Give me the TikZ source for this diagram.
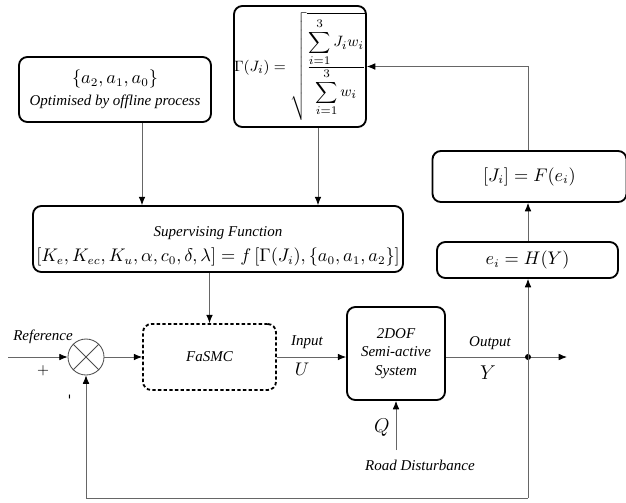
\documentclass[tikz,border=0pt]{standalone}
\usepackage{amsmath}
\usepackage[no-math]{fontspec}
\setmainfont{Liberation Serif}
\usetikzlibrary{arrows.meta, positioning, calc}

\begin{document}
\begin{tikzpicture}[
        x=0.6pt, y=-0.6pt,
        % box styles
        box/.style={
            rectangle,
            rounded corners=5pt,
            draw=black,
            line width=1.1pt,
            align=center,
            inner sep=1pt,
            font=\fontsize{9}{11}\selectfont
        },
        ctrlbox/.style={
            box,
            dash pattern=on 2pt off 1.4pt
        },
        % connector styles
        wire/.style={draw=black!60, line width=0.5pt},
        arrow/.style={
            wire,
            -{Latex[length=5pt, width=4pt, color=black]}
        },
        lbl/.style={font=\fontsize{9}{11}\selectfont\itshape},
        eq/.style={font=\fontsize{10.5}{13}\selectfont}
    ]
    \useasboundingbox (0,0) rectangle (626,502);

    % ================= blocks =================
    \node[box, minimum width=115.2pt, minimum height=39pt] (offline) at (115,89.5)
        {\fontsize{10.5}{13}\selectfont$\{a_2, a_1, a_0\}$\\[2pt] \itshape Optimised by offline process};
    \node[box, font=\fontsize{9.5}{12}\selectfont, minimum width=79.2pt, minimum height=72.6pt, inner sep=0pt] (gamma) at (300,66.5)
        {$\Gamma(J_i) = \sqrt{\frac{\displaystyle\sum_{i=1}^{3} J_i w_i}{\displaystyle\sum_{i=1}^{3} w_i}}$};
    \node[box, minimum width=222pt, minimum height=39.6pt] (super) at (218,239)
        {\rule{0pt}{15pt}\itshape Supervising Function\\[4pt]
         \fontsize{10.5}{13}\selectfont$[K_e, K_{ec}, K_u, \alpha, c_0, \delta, \lambda] = f\left[\Gamma(J_i), \{a_0, a_1, a_2\}\right]$};
    \node[box, eq, minimum width=116.4pt, minimum height=30.6pt] (jfun) at (529.5,176.5) {$[J_i] = F(e_i)$};
    \node[box, eq, minimum width=108.6pt, minimum height=21.6pt] (hfun) at (527.5,260) {$e_i = H(Y)$};

    \node[circle, draw=black!70, line width=0.5pt, minimum size=21.6pt, inner sep=0pt] (sum) at (86,357) {};
    \draw[draw=black!70, line width=0.5pt] (sum.north west) -- (sum.south east)
        (sum.north east) -- (sum.south west);

    \node[ctrlbox, minimum width=79.8pt, minimum height=39.6pt] (fasmc) at (209.5,357) {\itshape FaSMC};
    \node[box, minimum width=58.8pt, minimum height=55.8pt] (plant) at (396,353.5)
        {\itshape 2DOF\\ \itshape Semi-active\\ \itshape System};

    % ================= free ends =================
    \coordinate (ref) at (8,357);
    \coordinate (pick) at (528,357);
    \coordinate (outend) at (567,357);
    \coordinate (road) at (396,450);
    \coordinate (loop) at (528,498);

    % ================= connectors =================
    \draw[arrow] (ref) -- (sum);
    \draw[arrow] (sum) -- (fasmc);
    \draw[arrow] (fasmc.east) -- (fasmc.east -| plant.west);
    \draw[wire] (plant.east |- pick) -- (pick);
    \draw[arrow] (pick) -- (outend);
    \fill (pick) circle (1.8pt);
    \draw[arrow] (pick) -- (pick |- hfun.south);
    \draw[arrow] (hfun.north -| pick) -- (pick |- jfun.south);
    \draw[arrow] (jfun.north -| pick) |- (gamma.east);
    \draw[arrow] ([xshift=16.2pt]offline.south) -- ([xshift=16.2pt]offline.south |- super.north);
    \draw[arrow] ([xshift=10.8pt]gamma.south) -- ([xshift=10.8pt]gamma.south |- super.north);
    \draw[arrow] (fasmc.north |- super.south) -- (fasmc.north);
    \draw[arrow] (road) -- (plant.south);
    \draw[wire] (pick) -- (loop);
    \draw[arrow] (loop) -| (sum.south);

    % ================= labels =================
    \node[lbl] (reflbl) at (43,337) {Reference};
    \node[font=\fontsize{9}{11}\selectfont] (plus) at (43,371) {$+$};
    \node[font=\fontsize{9}{11}\selectfont, rotate=90] (minus) at (71,397) {-};
    \node[lbl] (inlbl) at (307,342) {Input};
    \node[font=\fontsize{11}{13}\selectfont] (ulbl) at (302,369) {$U$};
    \node[lbl] (outlbl) at (490,343) {Output};
    \node[font=\fontsize{13}{15}\selectfont] (ylbl) at (488,373) {$Y$};
    \node[font=\fontsize{13}{15}\selectfont] (qlbl) at (382,428) {$Q$};
    \node[lbl] (roadlbl) at (420,465) {Road Disturbance};

\end{tikzpicture}
\end{document}
